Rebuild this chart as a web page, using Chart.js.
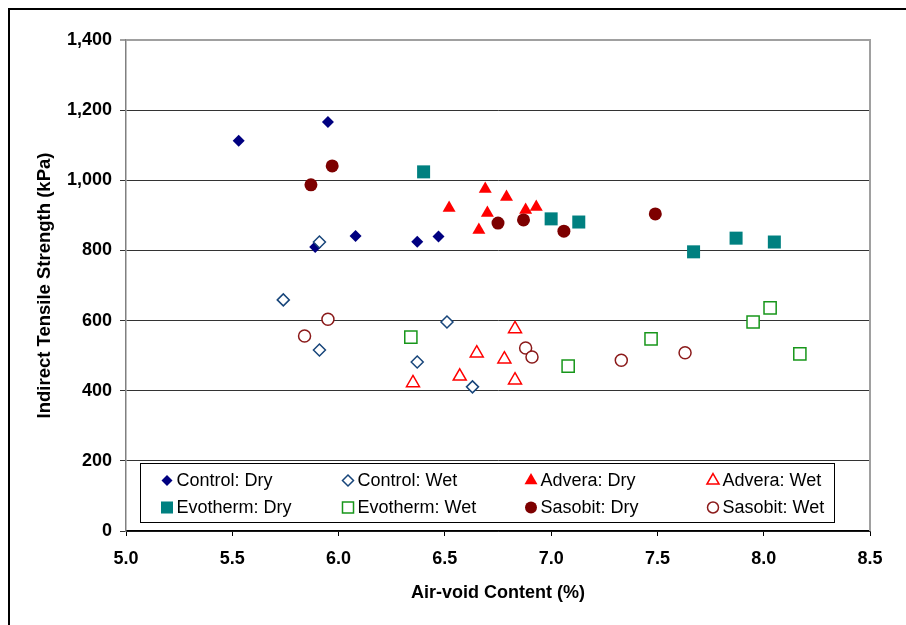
<!DOCTYPE html>
<html><head><meta charset="utf-8">
<script src="https://cdn.jsdelivr.net/npm/chart.js@4.4.1/dist/chart.umd.min.js"></script>
<style>html,body{margin:0;padding:0;background:#fff;}#wrap{width:906px;height:625px;}</style>
</head><body><div id="wrap"><canvas id="c" width="906" height="625"></canvas></div>
<script>
// ---- data ----
const seriesNames = ['Control: Dry','Control: Wet','Advera: Dry','Advera: Wet','Evotherm: Dry','Evotherm: Wet','Sasobit: Dry','Sasobit: Wet'];
const controlDryX = [5.53, 5.95, 5.89, 6.08, 6.37, 6.47];
const controlDryY = [1113, 1166, 810, 841, 825, 840];
const controlWetX = [5.91, 5.74, 5.91, 6.51, 6.37, 6.63];
const controlWetY = [824, 659, 516, 596, 482, 411];
const adveraDryX = [6.69, 6.79, 6.52, 6.70, 6.88, 6.93, 6.66];
const adveraDryY = [975, 952, 921, 907, 915, 924, 858];
const adveraWetX = [6.83, 6.65, 6.78, 6.57, 6.83, 6.35];
const adveraWetY = [576, 507, 490, 441, 430, 422];
const evothermDryX = [6.40, 7.00, 7.13, 7.67, 7.87, 8.05];
const evothermDryY = [1024, 890, 881, 796, 835, 824];
const evothermWetX = [6.34, 7.08, 7.47, 7.95, 8.03, 8.17];
const evothermWetY = [553, 470, 548, 596, 636, 505];
const sasobitDryX = [5.87, 5.97, 6.75, 6.87, 7.06, 7.49];
const sasobitDryY = [987, 1041, 878, 887, 855, 904];
const sasobitWetX = [5.95, 5.84, 6.88, 6.91, 7.33, 7.63];
const sasobitWetY = [604, 556, 522, 496, 487, 508];
const xTickValues = [5.0, 5.5, 6.0, 6.5, 7.0, 7.5, 8.0, 8.5];
const yTickValues = [0, 200, 400, 600, 800, 1000, 1200, 1400];

const xs = [controlDryX, controlWetX, adveraDryX, adveraWetX, evothermDryX, evothermWetX, sasobitDryX, sasobitWetX];
const ys = [controlDryY, controlWetY, adveraDryY, adveraWetY, evothermDryY, evothermWetY, sasobitDryY, sasobitWetY];

// ---- styles ----
const styles = [
  {ps:'rectRot',  r:6,   fill:'#000080', stroke:'#000080', bw:0,   lr:5.5},
  {ps:'rectRot',  r:6,   fill:'#ffffff', stroke:'#17457a', bw:1.5, lr:5.5},
  {ps:'triangle', r:7.5, fill:'#ff0000', stroke:'#ff0000', bw:0,   lr:7.5},
  {ps:'triangle', r:7.5, fill:'#ffffff', stroke:'#ff0000', bw:1.5, lr:7},
  {ps:'rect',     r:9.2, fill:'#008080', stroke:'#008080', bw:0,   lr:8.5},
  {ps:'rect',     r:8.6, fill:'#ffffff', stroke:'#17961a', bw:1.5, lr:7.8},
  {ps:'circle',   r:6.5, fill:'#7d0000', stroke:'#7d0000', bw:0,   lr:6},
  {ps:'circle',   r:6,   fill:'#ffffff', stroke:'#8b1a1a', bw:1.5, lr:5.5}
];

const datasets = seriesNames.map((name, i) => ({
  label: name,
  data: xs[i].map((x, k) => ({x: x, y: ys[i][k]})),
  pointStyle: styles[i].ps,
  pointRadius: styles[i].r,
  backgroundColor: styles[i].fill,
  borderColor: styles[i].stroke,
  borderWidth: styles[i].bw,
  pointBorderWidth: styles[i].bw,
  showLine: false,
  order: seriesNames.length - i
}));

const FONT = "'Liberation Sans', Arial, sans-serif";

const framePlugin = {
  id: 'frame',
  beforeDraw(chart) {
    const c = chart.ctx;
    c.save(); c.fillStyle = '#fff'; c.fillRect(0, 0, chart.width, chart.height); c.restore();
  },
  beforeDatasetsDraw(chart) {
    const c = chart.ctx, a = chart.chartArea;
    c.save();
    c.strokeStyle = '#a0a0a0'; c.lineWidth = 2;
    c.beginPath();
    c.moveTo(a.left, a.top); c.lineTo(a.right, a.top); c.lineTo(a.right, a.bottom);
    c.stroke();
    c.restore();
  },
  afterDraw(chart) {
    const c = chart.ctx, a = chart.chartArea;
    // legend box
    const bx = a.left + 14.5, by = a.bottom - 67.5, bw = 694, bh = 59;
    c.save();
    c.fillStyle = '#fff'; c.fillRect(bx, by, bw, bh);
    c.strokeStyle = '#000'; c.lineWidth = 1; c.strokeRect(bx, by, bw, bh);
    const colX = [bx + 26.5, bx + 207.5, bx + 390.5, bx + 572.5];
    const rowY = [by + 17, by + 44];
    c.font = '18px ' + FONT; c.textBaseline = 'middle'; c.textAlign = 'left';
    seriesNames.forEach((name, i) => {
      const s = styles[i];
      const x = colX[i % 4], y = rowY[Math.floor(i / 4)];
      c.save();
      c.fillStyle = s.fill; c.strokeStyle = s.stroke; c.lineWidth = s.bw;
      Chart.helpers.drawPoint(c, {pointStyle: s.ps, radius: s.lr, rotation: 0, borderWidth: s.bw}, x, y);
      c.restore();
      c.fillStyle = '#000';
      c.fillText(name, x + 9.5, y + 1);
    });
    // outer border
    c.strokeStyle = '#000'; c.lineWidth = 2;
    c.beginPath();
    c.moveTo(9, chart.height + 2); c.lineTo(9, 9); c.lineTo(chart.width + 2, 9);
    c.stroke();
    c.restore();
  }
};

new Chart(document.getElementById('c'), {
  type: 'scatter',
  data: {datasets: datasets},
  options: {
    responsive: false,
    devicePixelRatio: 1,
    animation: false,
    events: [],
    layout: {padding: {left: 0, right: 36, top: 40, bottom: 0}},
    plugins: {legend: {display: false}, tooltip: {enabled: false}},
    scales: {
      x: {
        type: 'linear', min: 5, max: 8.5,
        afterBuildTicks: s => { s.ticks = xTickValues.map(v => ({value: v})); },
        afterFit: s => { s.height = 94; },
        ticks: {color: '#000', font: {family: FONT, size: 18, weight: 'bold'}, padding: 12,
                callback: v => Number(v).toFixed(1), maxRotation: 0, autoSkip: false},
        grid: {drawOnChartArea: false, drawTicks: true, tickLength: 5, color: '#000'},
        border: {color: '#000', width: 1.5},
        title: {display: true, text: 'Air-void Content (%)', color: '#000',
                font: {family: FONT, size: 18, weight: 'bold'}, padding: {top: 0, bottom: 21}}
      },
      y: {
        type: 'linear', min: 0, max: 1400,
        afterBuildTicks: s => { s.ticks = yTickValues.map(v => ({value: v})); },
        afterFit: s => { s.width = 126; },
        ticks: {color: '#000', font: {family: FONT, size: 18, weight: 'bold'}, padding: 8,
                callback: v => Number(v).toLocaleString('en-US')},
        grid: {drawTicks: true, tickLength: 6,
               color: ctx => (ctx.tick && ctx.tick.value === 1400) ? '#a0a0a0' : '#333333',
               lineWidth: ctx => (ctx.tick && ctx.tick.value === 1400) ? 2 : 1},
        border: {color: '#808080', width: 1.5},
        title: {display: true, text: 'Indirect Tensile Strength (kPa)', color: '#000',
                font: {family: FONT, size: 18.5, weight: 'bold'}, padding: {top: 34}}
      }
    }
  },
  plugins: [framePlugin]
});
</script>
</body></html>
